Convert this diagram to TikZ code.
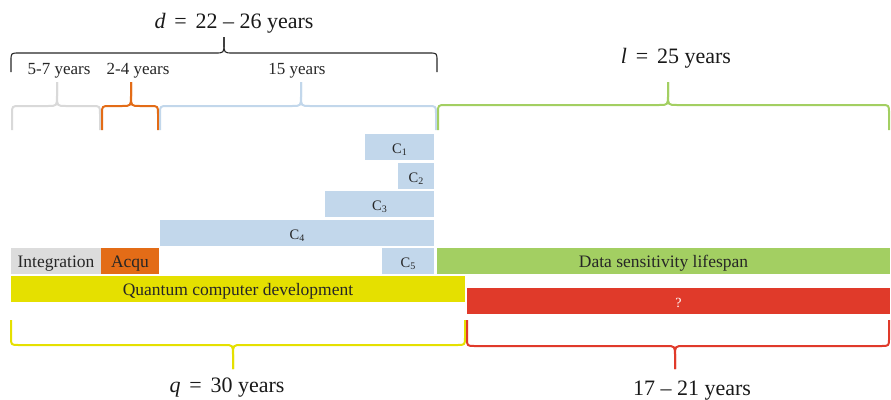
\documentclass[tikz,border=0pt]{standalone}
\usepackage{fontspec}
\setmainfont{Liberation Serif}

\definecolor{intgray}{HTML}{DCDCDC}
\definecolor{bracegray}{HTML}{D9D9D9}
\definecolor{acqorange}{HTML}{E36C17}
\definecolor{cblue}{HTML}{C2D7EB}
\definecolor{lifegreen}{HTML}{A3CF62}
\definecolor{qyellow}{HTML}{E5E000}
\definecolor{gapred}{HTML}{E03A2A}

% subscript index of a C box
\newcommand\csub[1]{\raisebox{-0.4ex}{\fontsize{10}{10}\selectfont#1}}
% equals sign with wide spacing
\newcommand\weq{\hspace{0.4em}=\hspace{0.4em}}

% curly span marker: #1 style, #2 left x, #3 right x, #4 tip x,
% #5 y of the free ends, #6 y of the long line, #7 y of the tip
\newcommand\spanbrace[7]{%
  \pgfmathsetmacro\bsgn{(#5>#6)?1:-1}%
  \pgfmathsetmacro\bya{#6+8*\bsgn}%
  \pgfmathsetmacro\byb{#6-10*\bsgn}%
  \draw[#1] (#2,#5) -- (#2,\bya) .. controls (#2,#6) .. (#2+8,#6)
    -- (#4-9,#6) .. controls (#4,#6) .. (#4,\byb) -- (#4,#7);
  \draw[#1] (#4,#7) -- (#4,\byb) .. controls (#4,#6) .. (#4+9,#6)
    -- (#3-8,#6) .. controls (#3,#6) .. (#3,\bya) -- (#3,#5);
}

\begin{document}
\begin{tikzpicture}[x=1pt,y=-1pt,
  bar/.style={anchor=north west, inner sep=0pt, outer sep=0pt,
    minimum height=26pt, text height=12pt, text depth=0pt,
    font=\fontsize{17.5}{20}\selectfont, text=black!85},
  cbar/.style={bar, fill=cblue, font=\fontsize{14.5}{17}\selectfont},
  spanlabel/.style={anchor=base, inner sep=0pt,
    font=\fontsize{17}{20}\selectfont, text=black!85},
  biglabel/.style={anchor=base, inner sep=0pt,
    font=\fontsize{22}{26}\selectfont, text=black!90},
  brc/.style={line width=2pt, line cap=butt, line join=round},
]
\useasboundingbox (0,0) rectangle (891,399);

% ---- bars ----
\node[cbar, minimum width=69pt] (c1) at (365,134) {C\csub{1}};
\node[cbar, minimum width=36pt] (c2) at (398,163) {C\csub{2}};
\node[cbar, minimum width=109pt] (c3) at (325,191) {C\csub{3}};
\node[cbar, minimum width=274pt] (c4) at (160,220) {C\csub{4}};
\node[cbar, minimum width=52pt] (c5) at (382,248) {C\csub{5}};
\node[bar, fill=intgray, minimum width=90pt] (integ) at (11,248) {Integration};
\node[bar, fill=acqorange, minimum width=58pt] (acqu) at (101,248) {Acqu};
\node[bar, fill=lifegreen, minimum width=453pt] (life) at (437,248) {Data sensitivity lifespan};
\node[bar, fill=qyellow, minimum width=454pt] (qdev) at (11,276) {Quantum computer development};
\node[bar, fill=gapred, minimum width=423pt, text=white, font=\fontsize{14}{17}\selectfont] (gap) at (467,288) {?};

% ---- span markers ----
\spanbrace{line width=1.1pt, black!85, line join=round}{11}{437}{224}{72}{53}{37}
\spanbrace{brc, bracegray}{12}{100}{57}{130}{106}{82}
\spanbrace{brc, acqorange}{102}{158}{131}{130}{106}{82}
\spanbrace{brc, cblue}{160}{436}{301}{130}{106}{82}
\spanbrace{brc, lifegreen}{438}{889}{668}{130}{105}{82}
\spanbrace{brc, qyellow}{11}{465}{233}{320}{345}{369}
\spanbrace{brc, gapred}{467}{889}{675}{320}{346}{369}

% ---- labels ----
\node[biglabel] (dlab) at (234,28) {\textit{d}\weq 22 – 26 years};
\node[spanlabel] (lab1) at (59,74) {5-7 years};
\node[spanlabel] (lab2) at (138,74) {2-4 years};
\node[spanlabel] (lab3) at (297,74) {15 years};
\node[biglabel] (llab) at (676,63) {\textit{l}\weq 25 years};
\node[biglabel] (qlab) at (227,392) {\textit{q}\weq 30 years};
\node[biglabel] (rlab) at (692,395) {17 – 21 years};
\end{tikzpicture}
\end{document}
